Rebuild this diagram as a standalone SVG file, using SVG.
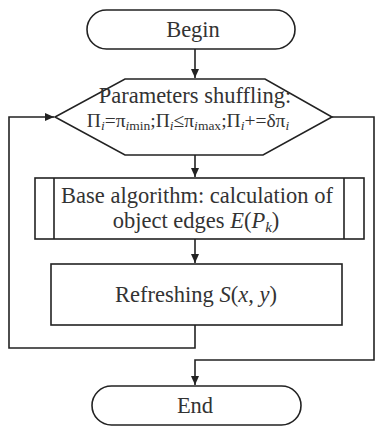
<svg xmlns="http://www.w3.org/2000/svg" width="375" height="427" viewBox="0 0 375 427">
<defs>
<style>
.s{fill:#fff;stroke:#222;stroke-width:1.6}
.c{fill:none;stroke:#222;stroke-width:1.6}
text{font-family:"Liberation Serif","Times New Roman",serif;fill:#333;text-anchor:middle}
.t{font-size:22.5px}
.m{font-size:19.5px}
.i{font-style:italic;font-size:13.5px}
</style>
<marker id="a" markerWidth="10" markerHeight="10" refX="9" refY="5" orient="auto" markerUnits="userSpaceOnUse">
<path d="M0,1 L9,5 L0,9 Z" fill="#222"/>
</marker>
</defs>
<rect width="375" height="427" fill="#fff"/>
<g id="connectors">
<path class="c" d="M195,49 V78" marker-end="url(#a)"/>
<path class="c" d="M195,155 V177" marker-end="url(#a)"/>
<path class="c" d="M195,239 V263" marker-end="url(#a)"/>
<path class="c" d="M195,325 V348 H9 V117 H54" marker-end="url(#a)"/>
<path class="c" d="M332,117 H374 V360 H195 V385" marker-end="url(#a)"/>
</g>
<g id="begin">
<rect class="s" x="87" y="10" width="208" height="39" rx="19.5"/>
<text class="t" x="193" y="37">Begin</text>
</g>
<g id="params">
<polygon class="s" points="125,79 265,79 332,117 263,155 125,155 55,117"/>
<text class="t" x="195" y="103">Parameters shuffling:</text>
<text class="m" x="188" y="127">Π<tspan class="i" dy="3">i</tspan><tspan dy="-3">=π</tspan><tspan class="i" dy="3">i</tspan><tspan font-size="13.5">min</tspan><tspan dy="-3">;Π</tspan><tspan class="i" dy="3">i</tspan><tspan dy="-3">≤π</tspan><tspan class="i" dy="3">i</tspan><tspan font-size="13.5">max</tspan><tspan dy="-3">;Π</tspan><tspan class="i" dy="3">i</tspan><tspan dy="-3">+=δπ</tspan><tspan class="i" dy="3">i</tspan></text>
</g>
<g id="base">
<rect class="s" x="35" y="178" width="329" height="61"/>
<path class="c" d="M54,178 V239 M344,178 V239"/>
<text class="t" x="197" y="203">Base algorithm: calculation of</text>
<text class="t" x="196" y="228">object edges <tspan font-style="italic">E</tspan>(<tspan font-style="italic">P</tspan><tspan font-style="italic" font-size="15" dy="4">k</tspan><tspan dy="-4">)</tspan></text>
</g>
<g id="refresh">
<rect class="s" x="51" y="264" width="291" height="61"/>
<text class="t" x="196" y="302">Refreshing <tspan font-style="italic">S</tspan>(<tspan font-style="italic">x</tspan>, <tspan font-style="italic">y</tspan>)</text>
</g>
<g id="end">
<rect class="s" x="92" y="386" width="209" height="39" rx="19.5"/>
<text class="t" x="195" y="413">End</text>
</g>
</svg>
